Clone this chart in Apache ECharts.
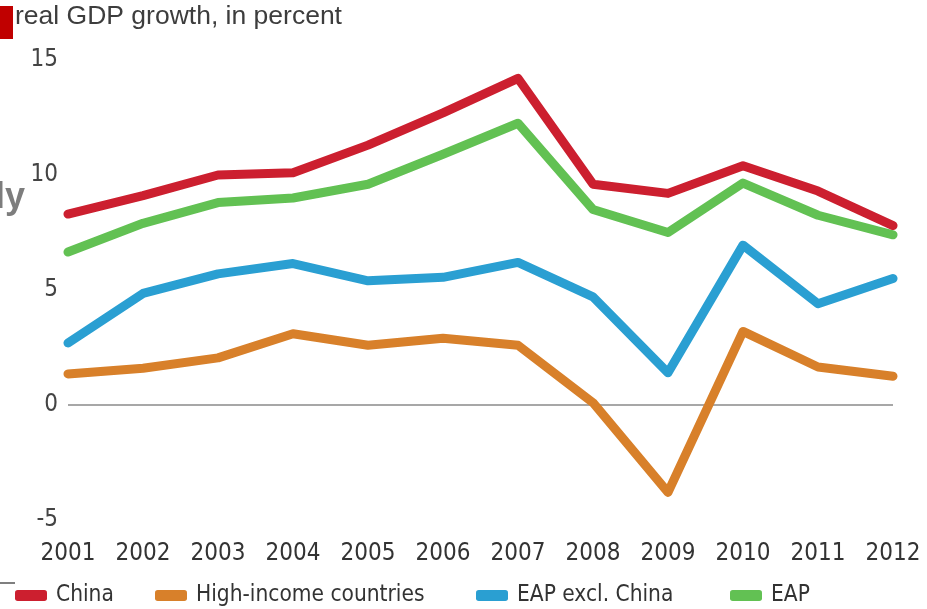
<!DOCTYPE html>
<html>
<head>
<meta charset="utf-8">
<title>Real GDP growth</title>
<script src="https://cdn.jsdelivr.net/npm/echarts@6/dist/echarts.min.js"></script>
<style>
  html, body { margin: 0; padding: 0; background: #fff; }
  #chart { width: 927px; height: 609px; }
</style>
</head>
<body>
<div id="chart"></div>
<script>
// Years on the horizontal axis
const years = ['2001', '2002', '2003', '2004', '2005', '2006', '2007', '2008', '2009', '2010', '2011', '2012'];

// Real GDP growth, percent
const china         = [8.3, 9.1, 10.0, 10.1, 11.3, 12.7, 14.2, 9.6, 9.2, 10.4, 9.3, 7.8];
const highIncome    = [1.35, 1.6, 2.05, 3.1, 2.6, 2.9, 2.6, 0.1, -3.8, 3.2, 1.65, 1.25];
const eapExclChina  = [2.7, 4.85, 5.7, 6.15, 5.4, 5.55, 6.2, 4.7, 1.4, 6.95, 4.4, 5.5];
const eap           = [6.65, 7.9, 8.8, 9.0, 9.6, 10.9, 12.25, 8.5, 7.5, 9.65, 8.25, 7.4];

// Value axis ticks
const yTicks = [-5, 0, 5, 10, 15];

const seriesNames  = ['China', 'High-income countries', 'EAP excl. China', 'EAP'];
const seriesData   = [china, highIncome, eapExclChina, eap];
const seriesColors = ['#cc1f2f', '#d8802a', '#2a9fd2', '#62c153'];

// Narrow face for axis and legend text
const COND_FAMILY = '"DejaVu Sans Condensed", "Liberation Sans", sans-serif';

const chart = echarts.init(document.getElementById('chart'), null, { renderer: 'canvas' });

const series = seriesNames.map((name, i) => ({
  name: name,
  type: 'line',
  data: seriesData[i],
  symbol: 'none',
  smooth: false,
  z: 10 - i,
  lineStyle: { width: 9, color: seriesColors[i], join: 'round', cap: 'round' },
  itemStyle: { color: seriesColors[i] },
  silent: true
}));

// Zero reference line
series[0].markLine = {
  silent: true,
  symbol: ['none', 'none'],
  label: { show: false },
  lineStyle: { color: '#8a8a8a', width: 1.5, type: 'solid' },
  data: [{ yAxis: 0 }],
  z: 1
};
series.reverse();

// One legend block per series so each entry sits at its own spot
const legendLefts = [10, 150, 471, 725];
const legends = seriesNames.map((name, i) => ({
  left: legendLefts[i],
  top: 579,
  icon: 'roundRect',
  itemWidth: 32,
  itemHeight: 11,
  textStyle: { color: '#333', fontSize: 22.5, fontFamily: COND_FAMILY, padding: [0, 0, 0, 4] },
  data: [name]
}));

chart.setOption({
  animation: false,
  backgroundColor: '#ffffff',
  grid: { left: 68, right: 34, top: 60, bottom: 89, containLabel: false, outerBoundsMode: 'none' },
  xAxis: {
    type: 'category',
    data: years,
    boundaryGap: false,
    axisLine: { show: false },
    axisTick: { show: false },
    splitLine: { show: false },
    axisLabel: { interval: 0, color: '#333', fontSize: 24, margin: 22, fontFamily: COND_FAMILY }
  },
  yAxis: {
    type: 'value',
    min: yTicks[0],
    max: yTicks[yTicks.length - 1],
    interval: 5,
    axisLine: { show: false },
    axisTick: { show: false },
    splitLine: { show: false },
    axisLabel: { color: '#444', fontSize: 24, margin: 10, fontFamily: COND_FAMILY }
  },
  legend: legends,
  graphic: [
    { type: 'rect', left: 0, top: 6, shape: { width: 13, height: 33 }, style: { fill: '#c00000' } },
    { type: 'text', left: 15, top: 3, style: { text: 'real GDP growth, in percent', fill: '#3d3d3d', fontSize: 26.5, fontFamily: '"Liberation Sans", Arial, sans-serif' } },
    { type: 'text', left: -5, top: 180, style: { text: 'ly', fill: '#7d7d7d', fontSize: 36, fontWeight: 'bold', fontFamily: '"Liberation Sans", Arial, sans-serif' } },
    { type: 'line', shape: { x1: 0, y1: 583, x2: 15, y2: 583 }, style: { stroke: '#555', lineWidth: 1.5 } }
  ],
  series: series
});
</script>
</body>
</html>
